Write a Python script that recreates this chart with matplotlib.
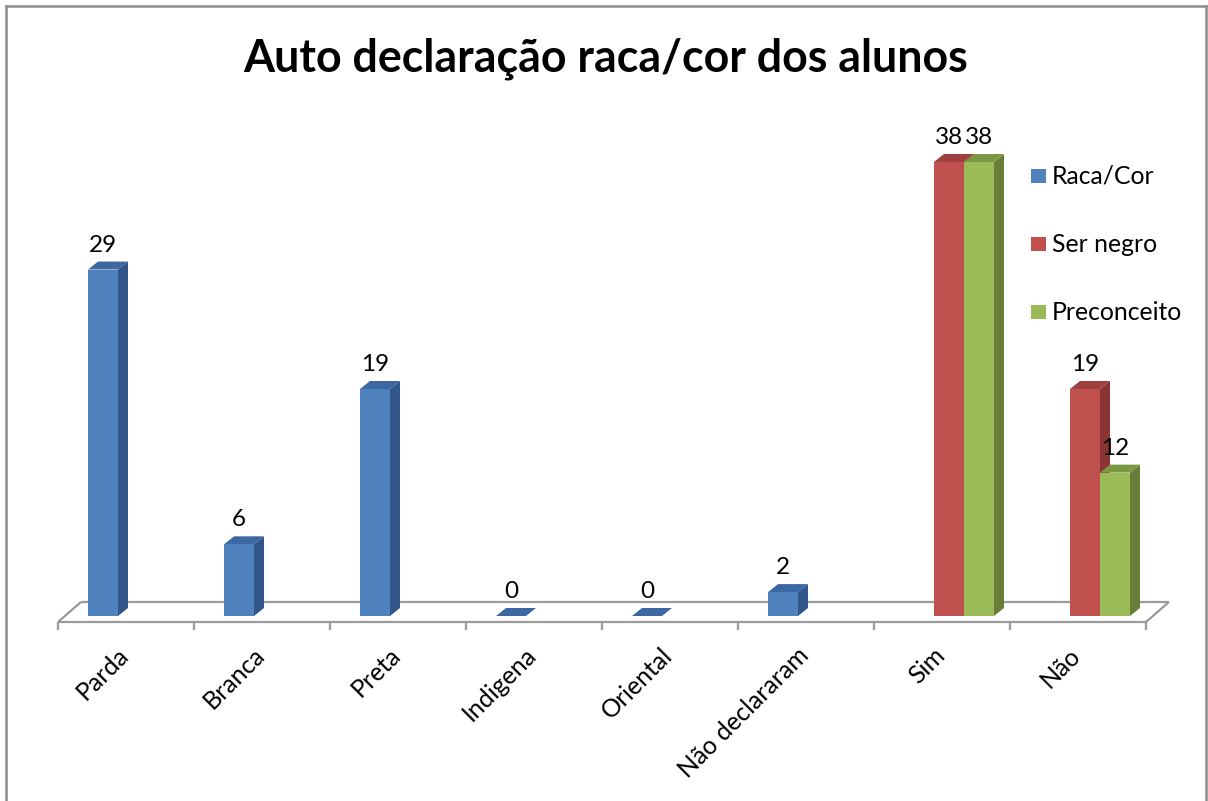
import numpy as np
import matplotlib
matplotlib.use("Agg")
import matplotlib.pyplot as plt
from matplotlib.patches import Polygon, Rectangle
from matplotlib.lines import Line2D

# data
categories = ["Parda", "Branca", "Preta", "Indigena", "Oriental", "Não declararam", "Sim", "Não"]
raca_cor = [29, 6, 19, 0, 0, 2, np.nan, np.nan]
ser_negro = [np.nan, np.nan, np.nan, np.nan, np.nan, np.nan, 38, 19]
preconceito = [np.nan, np.nan, np.nan, np.nan, np.nan, np.nan, 38, 12]
series_names = ["Raca/Cor", "Ser negro", "Preconceito"]
series_values = [raca_cor, ser_negro, preconceito]
title = "Auto declaração raca/cor dos alunos"

# front, side, top colours
colors = [
    ("#4F81BD", "#30568A", "#3D67A2"),
    ("#C0504D", "#8A3533", "#9E403D"),
    ("#9BBB59", "#677D38", "#7B9745"),
]

plt.rcParams["font.family"] = ["Lato", "DejaVu Sans"]

W, H = 1208, 801
fig = plt.figure(figsize=(W / 100, H / 100), dpi=100)


def fx(px):
    return px / W


def fy(py):
    return 1 - py / H


# axes placed in pixels: x 58..1146, y 130..622
left_px, right_px, top_px, bottom_px = 58, 1146, 130, 622
zero_px, unit_px = 616, (616 - 162) / 38
ax = fig.add_axes([fx(left_px), fy(bottom_px), fx(right_px) - fx(left_px), fy(top_px) - fy(bottom_px)])
ymin = -(bottom_px - zero_px) / unit_px
ymax = (zero_px - top_px) / unit_px
ax.set_xlim(0, len(categories))
ax.set_ylim(ymin, ymax)
ax.axis("off")

xpx = len(categories) / (right_px - left_px)   # data per pixel
ypx = 1 / unit_px

# floor
grey = "#9A9A9A"
fdx, fdy = 23 * xpx, 20 * ypx
n = len(categories)
floor_kw = dict(color=grey, lw=1.6, clip_on=False, zorder=1, solid_capstyle="butt")
ax.plot([0, n], [ymin, ymin], **floor_kw)
ax.plot([fdx, n + fdx], [ymin + fdy, ymin + fdy], **floor_kw)
ax.plot([0, fdx], [ymin, ymin + fdy], **floor_kw)
ax.plot([n, n + fdx], [ymin, ymin + fdy], **floor_kw)
for k in range(n + 1):
    ax.plot([k, k], [ymin, ymin - 8 * ypx], **floor_kw)

# bars with fake depth
w = 30 * xpx
shift = 7 * xpx
bdx, bdy = 10 * xpx, 8 * ypx
for j, vals in enumerate(series_values):
    front, side, top = colors[j]
    for i, v in enumerate(vals):
        if np.isnan(v):
            continue
        x0 = i + 0.5 + shift - 1.5 * w + j * w
        x1 = x0 + w
        z = 2 + j
        ax.add_patch(Polygon([(x1, 0), (x1 + bdx, bdy), (x1 + bdx, v + bdy), (x1, v)],
                             closed=True, facecolor=side, edgecolor="none", zorder=z))
        ax.add_patch(Polygon([(x0, v), (x1, v), (x1 + bdx, v + bdy), (x0 + bdx, v + bdy)],
                             closed=True, facecolor=top, edgecolor="none", zorder=z))
        ax.bar(x0, v, width=w, align="edge", color=front, zorder=z)
        ax.annotate(f"{v:g}", (x0 + w / 2, v), xytext=(0, 18 * 0.72), textcoords="offset points",
                    ha="center", va="baseline", fontsize=17.5, zorder=10, annotation_clip=False)

# category labels
for i, c in enumerate(categories):
    ax.annotate(c, (i + 0.5, ymin), xytext=(7 * 0.72, -21 * 0.72), textcoords="offset points",
                rotation=45, ha="right", va="top", fontsize=18, annotation_clip=False)

# legend
for k, name in enumerate(series_names):
    yc = 176 + 68 * k
    fig.add_artist(Rectangle((fx(1031), fy(yc + 7)), 15 / W, 14 / H,
                             transform=fig.transFigure, facecolor=colors[k][0], edgecolor="none"))
    fig.text(fx(1052), fy(yc), name, ha="left", va="center", fontsize=17.8)

fig.text(fx(606), fy(59), title, ha="center", va="center", fontsize=32.2, fontweight="bold")

# chart border
for xs, ys in [([6, 6], [6, 801]), ([6, 1206], [6, 6]), ([1206, 1206], [6, 801])]:
    fig.add_artist(Line2D([fx(p) for p in xs], [fy(p) for p in ys], transform=fig.transFigure,
                          color="#8C8C8C", lw=1.8))

fig.savefig("out.png", dpi=100)
